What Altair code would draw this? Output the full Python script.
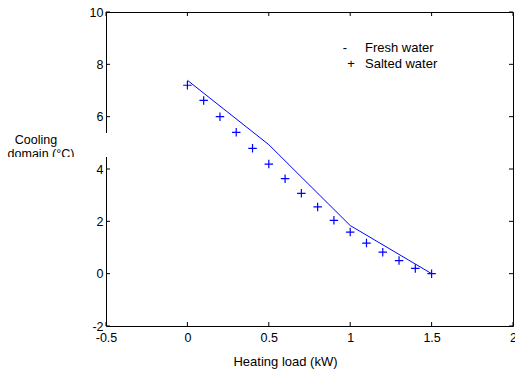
import altair as alt
import pandas as pd

# ---- data ----
salted_x = [0.0, 0.1, 0.2, 0.3, 0.4, 0.5, 0.6, 0.7, 0.8, 0.9, 1.0, 1.1, 1.2, 1.3, 1.4, 1.5]
salted_y = [7.20, 6.62, 6.00, 5.40, 4.79, 4.19, 3.63, 3.07, 2.55, 2.04, 1.59, 1.17, 0.82, 0.50, 0.20, 0.0]
fresh_x = [0.0, 0.5, 1.0, 1.5]
fresh_y = [7.39, 4.93, 1.84, 0.0]
x_ticks = [-0.5, 0, 0.5, 1, 1.5, 2]
y_ticks = [-2, 0, 2, 4, 6, 8, 10]
legend_symbols = ["-", "+"]
legend_labels = ["Fresh water", "Salted water"]
x_title = "Heating load (kW)"
y_title_lines = ["Cooling", "domain (°C)"]

W, H = 407, 314
FONT = "Liberation Sans"
FS = 12.5
BLUE = "#0000ff"

salted = pd.DataFrame({"x": salted_x, "y": salted_y})
fresh = pd.DataFrame({"x": fresh_x, "y": fresh_y})
xt = pd.DataFrame({"v": x_ticks})
yt = pd.DataFrame({"v": y_ticks})
one = pd.DataFrame({"k": [0]})

xs = alt.Scale(domain=[-0.5, 2], nice=False, zero=False)
ys = alt.Scale(domain=[-2, 10], nice=False, zero=False)

x_axis = alt.Axis(values=x_ticks, labelExpr="datum.value + ''", title=x_title, domain=False,
                  ticks=False, grid=False, labelFont=FONT, labelFontSize=FS, labelColor="black",
                  labelPadding=5, titleFont=FONT, titleFontSize=13, titleFontWeight="normal",
                  titleColor="black", titleX=179, titleY=39, titleBaseline="alphabetic",
                  titleAnchor="start", titleAlign="center", labelFlush=False, labelOverlap=False)
y_axis = alt.Axis(values=y_ticks, labelExpr="datum.value + ''", title=None, domain=False,
                  ticks=False, grid=False, labelFont=FONT, labelFontSize=FS, labelColor="black",
                  labelPadding=3, labelFlush=False, labelOverlap=False)

line = alt.Chart(fresh).mark_line(color=BLUE, strokeWidth=1).encode(
    x=alt.X("x:Q", scale=xs, axis=x_axis),
    y=alt.Y("y:Q", scale=ys, axis=y_axis),
)

pts = alt.Chart(salted).mark_point(
    shape="M-1,0H1M0,-1V1", filled=False, color=BLUE, strokeWidth=1.2, size=72, opacity=1
).encode(x=alt.X("x:Q", scale=xs), y=alt.Y("y:Q", scale=ys))

# inward tick marks (bottom / top / left / right)
tb = alt.Chart(xt).mark_rule(color="black", strokeWidth=1).encode(
    x=alt.X("v:Q", scale=xs), y=alt.value(H), y2=alt.value(H - 4))
tt = alt.Chart(xt).mark_rule(color="black", strokeWidth=1).encode(
    x=alt.X("v:Q", scale=xs), y=alt.value(0), y2=alt.value(4))
tl = alt.Chart(yt).mark_rule(color="black", strokeWidth=1).encode(
    y=alt.Y("v:Q", scale=ys), x=alt.value(0), x2=alt.value(4))
tr = alt.Chart(yt).mark_rule(color="black", strokeWidth=1).encode(
    y=alt.Y("v:Q", scale=ys), x=alt.value(W), x2=alt.value(W - 4))

# y label with white background box covering the axis
box = alt.Chart(one).mark_rect(color="white").encode(
    x=alt.value(-106), x2=alt.value(2), y=alt.value(121), y2=alt.value(145))
lab1 = alt.Chart(one).mark_text(font=FONT, fontSize=FS, color="black", align="center",
                                baseline="alphabetic", text=y_title_lines[0]).encode(
    x=alt.value(-70), y=alt.value(131.5))
lab2 = alt.Chart(one).mark_text(font=FONT, fontSize=FS, color="black", align="center",
                                baseline="alphabetic", text=y_title_lines[1]).encode(
    x=alt.value(-65), y=alt.value(145.5))
cut = alt.Chart(one).mark_rect(color="white").encode(
    x=alt.value(-106), x2=alt.value(-20), y=alt.value(145), y2=alt.value(152))

# text legend
leg = []
for i, (s, l) in enumerate(zip(legend_symbols, legend_labels)):
    yy = 40 + 15.5 * i
    leg.append(alt.Chart(one).mark_text(font=FONT, fontSize=13, color="black", align="center",
                                        baseline="alphabetic", text=s).encode(
        x=alt.value(239 if s == "-" else 245), y=alt.value(yy)))
    leg.append(alt.Chart(one).mark_text(font=FONT, fontSize=13, color="black", align="left",
                                        baseline="alphabetic", text=l).encode(
        x=alt.value(259), y=alt.value(yy)))

chart = alt.layer(line, pts, tb, tt, tl, tr, box, lab1, lab2, cut, *leg).properties(
    width=W, height=H,
    autosize=alt.AutoSizeParams(type="none"),
    padding={"left": 106, "top": 12, "right": 2, "bottom": 45},
    background="white",
).configure_view(stroke="black", strokeWidth=1)

chart.save("out.html", embed_options={"renderer": "svg", "actions": False})
